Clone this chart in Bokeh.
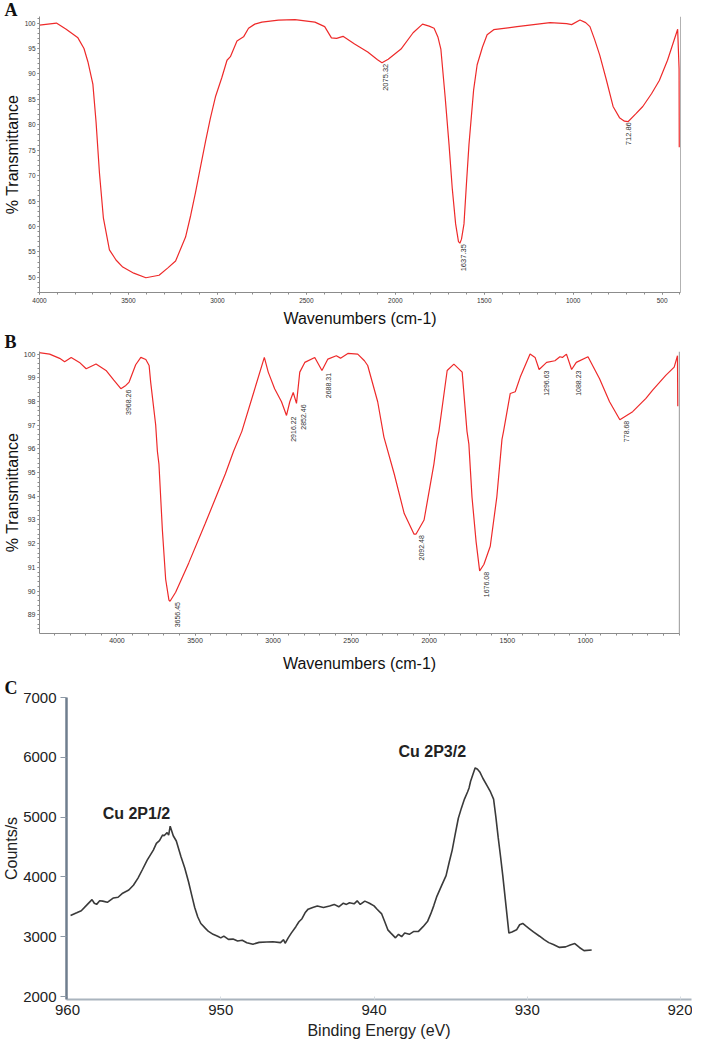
import math
from bokeh.plotting import figure
from bokeh.models import Range1d, FixedTicker, Span, ColumnDataSource
from bokeh.layouts import column
from bokeh.embed import file_html
from bokeh.resources import INLINE
from bokeh.core.properties import value

SANS = "Liberation Sans"
SERIF = "Liberation Serif"

# ---------------- Panel A : FTIR spectrum ----------------
A_wn = [4000, 3905, 3850, 3784, 3750, 3728, 3700, 3682, 3663, 3641, 3607, 3570, 3532, 3470,
        3402, 3328, 3280, 3235, 3179, 3150, 3123, 3095, 3067, 3040, 3011, 2975, 2946, 2927,
        2890, 2853, 2825, 2790, 2750, 2657, 2564, 2452, 2397, 2359, 2330, 2294, 2229, 2155,
        2100, 2075, 2040, 1968, 1900, 1847, 1810, 1782, 1760, 1744, 1720, 1698, 1680, 1661,
        1645, 1637, 1628, 1614, 1600, 1586, 1560, 1540, 1510, 1484, 1447, 1316, 1130, 1037,
        1009, 962, 930, 906, 880, 851, 815, 776, 740, 712, 692, 650, 609, 560, 516, 470,
        413, 405, 404]
A_T = [99.6, 100.0, 98.8, 97.1, 95.0, 92.4, 88.0, 80.5, 70.5, 61.7, 55.4, 53.4, 52.0, 50.8,
       49.9, 50.4, 51.8, 53.2, 57.9, 62.2, 66.7, 71.7, 76.7, 81.2, 85.5, 89.3, 92.7, 93.4,
       96.5, 97.3, 99.0, 99.8, 100.2, 100.6, 100.7, 100.2, 99.3, 97.1, 97.0, 97.4, 95.9, 94.3,
       92.8, 92.2, 92.9, 94.9, 98.1, 99.8, 99.4, 99.0, 97.2, 94.9, 85.5, 76.1, 67.5, 60.5,
       57.0, 56.7, 57.5, 60.5, 68.5, 76.1, 86.8, 91.8, 95.3, 97.7, 98.7, 99.3, 100.1, 99.9,
       99.7, 100.6, 100.1, 99.3, 96.8, 93.7, 89.0, 83.6, 81.4, 80.7, 80.6, 82.1, 83.6, 86.1, 88.7, 92.7,
       98.8, 91.0, 75.6]
A_peaks = [2075.32, 1637.35, 712.86]
A_peak_T = [92.2, 56.7, 80.7]
A_xticks = [4000, 3500, 3000, 2500, 2000, 1500, 1000, 500]
A_yticks = [50, 55, 60, 65, 70, 75, 80, 85, 90, 95, 100]

# ---------------- Panel B : FTIR spectrum ----------------
B_wn = [4505, 4431, 4367, 4335, 4293, 4240, 4197, 4134, 4070, 4020, 3975, 3943, 3922, 3880,
        3847, 3815, 3794, 3784, 3752, 3741, 3731, 3709, 3688, 3667, 3660, 3624, 3540, 3434,
        3306, 3253, 3200, 3056, 3031, 2990, 2946, 2914, 2893, 2871, 2850, 2829, 2797, 2733,
        2687, 2649, 2595, 2568, 2521, 2458, 2415, 2394, 2330, 2290, 2224, 2160, 2097, 2085,
        2033, 1970, 1949, 1938, 1885, 1842, 1789, 1758, 1746, 1726, 1700, 1677, 1650, 1609,
        1567, 1534, 1524, 1481, 1449, 1417, 1354, 1322, 1296, 1248, 1195, 1163, 1147, 1121,
        1088, 1058, 983, 909, 845, 779, 697, 612, 569, 485, 431, 410, 408]
B_T = [100.07, 100.0, 99.82, 99.68, 99.86, 99.65, 99.38, 99.58, 99.31, 98.9, 98.54, 98.68, 98.82, 99.55,
       99.86, 99.77, 99.52, 98.82, 97.02, 95.9, 95.36, 92.58, 90.5, 89.62, 89.57, 89.95, 91.19, 92.86,
       94.94, 95.9, 96.74, 99.86, 99.24, 98.54, 97.99, 97.41, 97.99, 98.38, 97.92, 99.24, 99.65, 99.86,
       99.31, 99.79, 99.93, 99.83, 100.03, 100.0, 99.72, 99.52, 97.99, 96.5, 94.94, 93.27, 92.4, 92.4,
       93.0, 95.36, 96.4, 96.74, 99.31, 99.58, 99.24, 96.74, 96.2, 93.97, 92.1, 90.85, 91.12, 91.89,
       93.97, 96.4, 96.74, 98.34, 98.41, 99.03, 100.0, 99.86, 99.35, 99.65, 99.72, 99.89, 99.86, 100.0,
       99.35, 99.65, 99.89, 98.96, 97.99, 97.23, 97.57, 98.13, 98.48, 99.1, 99.45, 99.93, 97.8]
B_peaks = [3968.26, 3656.45, 2916.22, 2852.46, 2688.31, 2092.48, 1676.08, 1296.63, 1088.23, 778.68]
B_peak_T = [98.54, 89.58, 97.41, 97.92, 99.25, 92.4, 90.85, 99.35, 99.35, 97.23]
B_xticks = [4000, 3500, 3000, 2500, 2000, 1500, 1000, 500]
B_yticks = [89, 90, 91, 92, 93, 94, 95, 96, 97, 98, 99, 100]

# ---------------- Panel C : XPS Cu 2p ----------------
C_be = [959.8, 959.4, 959.1, 958.7, 958.4, 958.25, 958.1, 957.9, 957.7, 957.4, 957.0, 956.7,
        956.4, 956.0, 955.7, 955.4, 955.1, 954.8, 954.4, 954.2, 954.0, 953.8, 953.7, 953.5,
        953.4, 953.3, 953.1, 952.9, 952.6, 952.35, 952.1, 951.9, 951.7, 951.5, 951.3, 951.0,
        950.8, 950.5, 950.2, 950.0, 949.8, 949.5, 949.2, 948.9, 948.6, 948.3, 947.9, 947.5,
        947.0, 946.6, 946.1, 945.9, 945.8, 945.6, 945.4, 945.1, 944.9, 944.7, 944.5, 944.3,
        944.0, 943.7, 943.3, 942.9, 942.6, 942.3, 942.0, 941.8, 941.6, 941.3, 941.1, 940.9,
        940.6, 940.3, 940.0, 939.8, 939.5, 939.3, 939.1, 938.9, 938.6, 938.4, 938.2, 938.0,
        937.7, 937.4, 937.1, 936.8, 936.5, 936.3, 936.1, 935.9, 935.6, 935.3, 935.1, 934.9,
        934.7, 934.5, 934.3, 934.1, 933.9, 933.8, 933.7, 933.6, 933.4, 933.25, 933.1, 932.9,
        932.6, 932.4, 932.2, 932.05, 931.9, 931.75, 931.6, 931.4, 931.2, 931.0, 930.7, 930.5,
        930.3, 930.1, 929.9, 929.6, 929.2, 928.9, 928.6, 928.3, 927.9, 927.5, 927.2, 926.9,
        926.6, 926.3, 925.8]
C_counts = [3355, 3400, 3435, 3541, 3621, 3560, 3541, 3600, 3595, 3575, 3648, 3660,
            3728, 3780, 3861, 3980, 4128, 4280, 4448, 4560, 4608, 4700, 4688, 4741,
            4700, 4848, 4688, 4600, 4341, 4150, 3915, 3700, 3488, 3330, 3221, 3140,
            3088, 3040, 3008, 2980, 3010, 2955, 2960, 2928, 2940, 2900, 2875, 2905,
            2912, 2915, 2901, 2950, 2890, 2981, 3060, 3168, 3250, 3301, 3400, 3461,
            3490, 3515, 3490, 3515, 3540, 3500, 3560, 3540, 3568, 3550, 3600, 3540,
            3595, 3560, 3515, 3460, 3381, 3250, 3115, 3060, 2981, 3040, 3000, 3061,
            3040, 3088, 3090, 3168, 3260, 3381, 3520, 3675, 3850, 4021, 4240, 4448,
            4720, 4981, 5150, 5301, 5420, 5488, 5600, 5675, 5824, 5800, 5755, 5650,
            5515, 5420, 5301, 5000, 4661, 4350, 4021, 3540, 3061, 3080, 3115, 3200,
            3221, 3180, 3141, 3080, 3008, 2950, 2901, 2870, 2821, 2830, 2860, 2885,
            2820, 2768, 2779]
C_xticks = [960, 950, 940, 930, 920]
C_yticks = [2000, 3000, 4000, 5000, 6000, 7000]
C_peak_names = ["Cu 2P1/2", "Cu 2P3/2"]
C_peak_be = [955.5, 936.2]
C_peak_counts = [5060, 6100]

RED = "#ee2a2a"
AX = "#8c8c8c"
TXT = "#333333"


def base(width, height, xr, yr, letter, letter_offset, title_standoff, **borders):
    p = figure(width=width, height=height, x_range=xr, y_range=yr,
               output_backend="svg", toolbar_location=None, frame_align=False, **borders)
    p.grid.visible = False
    p.outline_line_color = None
    p.background_fill_color = "white"
    p.border_fill_color = "white"
    p.title.text = letter
    p.title.text_font = SERIF
    p.title.text_font_style = "bold"
    p.title.text_font_size = "18px"
    p.title.text_color = "#111111"
    p.title.align = "left"
    p.title.offset = letter_offset
    p.title.standoff = title_standoff
    p.title.text_line_height = 0.8
    return p


def ir_axis_style(ax, fs, tick_out, standoff):
    ax.axis_line_color = AX
    ax.axis_line_width = 1
    ax.major_tick_line_color = AX
    ax.minor_tick_line_color = AX
    ax.major_tick_in = 0
    ax.major_tick_out = tick_out
    ax.minor_tick_in = 0
    ax.minor_tick_out = 2
    ax.major_label_text_font = SANS
    ax.major_label_text_font_size = fs
    ax.major_label_text_color = TXT
    ax.major_label_standoff = standoff
    ax.axis_label_text_font = SANS
    ax.axis_label_text_font_size = "16px"
    ax.axis_label_text_font_style = "normal"
    ax.axis_label_text_color = "#111111"
    ax.axis_label_text_line_height = 0.7


# ---------- A ----------
pA = base(692, 329, Range1d(4000, 397), Range1d(47, 101.3), "A", -35, -6,
          min_border_left=35, min_border_right=12, min_border_top=8, min_border_bottom=32)
pA.line(A_wn, A_T, line_color=RED, line_width=1.2)
pA.xaxis.ticker = FixedTicker(ticks=A_xticks, minor_ticks=list(range(400, 4001, 100)))
pA.yaxis.ticker = FixedTicker(ticks=A_yticks, minor_ticks=list(range(47, 102)))
for ax in pA.xaxis:
    ir_axis_style(ax, "6.5px", 2, 3)
    ax.axis_label = "Wavenumbers (cm-1)"
    ax.axis_label_standoff = 4
for ax in pA.yaxis:
    ir_axis_style(ax, "6.5px", 2, 2)
    ax.axis_label = "% Transmittance"
    ax.axis_label_standoff = 1
pA.add_layout(Span(location=397, dimension="height", line_color="#666666", line_width=1))
srcA = ColumnDataSource(dict(x=A_peaks, y=A_peak_T, t=["%.2f" % v for v in A_peaks]))
pA.text(x="x", y="y", text="t", source=srcA, angle=math.pi / 2, text_align="right",
        text_baseline="middle", x_offset=4, y_offset=1, text_font=value(SANS),
        text_font_size="7.5px", text_color=TXT)

# ---------- B ----------
pB = base(692, 345, Range1d(4496, 397), Range1d(88.21, 100.11), "B", -35, 0,
          min_border_left=35, min_border_right=13, min_border_top=22, min_border_bottom=37)
pB.line(B_wn, B_T, line_color=RED, line_width=1.2)
pB.xaxis.ticker = FixedTicker(ticks=B_xticks, minor_ticks=list(range(400, 4501, 100)))
pB.yaxis.ticker = FixedTicker(ticks=B_yticks,
                              minor_ticks=[round(88.4 + 0.2 * i, 1) for i in range(60)])
for ax in pB.xaxis:
    ir_axis_style(ax, "7px", 2, 2)
    ax.axis_label = "Wavenumbers (cm-1)"
    ax.axis_label_standoff = 9
    ax.major_label_overrides = {500: ""}
for ax in pB.yaxis:
    ir_axis_style(ax, "7px", 2, 2)
    ax.axis_label = "% Transmittance"
    ax.axis_label_standoff = 0
pB.add_layout(Span(location=397, dimension="height", line_color="#555555", line_width=1.2))
srcB = ColumnDataSource(dict(x=B_peaks, y=B_peak_T, t=["%.2f" % v for v in B_peaks]))
pB.text(x="x", y="y", text="t", source=srcB, angle=math.pi / 2, text_align="right",
        text_baseline="middle", x_offset=7, y_offset=1, text_font=value(SANS),
        text_font_size="7px", text_color=TXT)

# ---------- C ----------
pC = base(692, 370, Range1d(960.065, 919.287), Range1d(1950, 7000), "C", -62, 0,
          min_border_left=62, min_border_right=1, min_border_top=23, min_border_bottom=45)
pC.line(C_be, C_counts, line_color="#3a3a3a", line_width=1.6)
pC.xaxis.ticker = FixedTicker(ticks=C_xticks)
pC.yaxis.ticker = FixedTicker(ticks=C_yticks)
for ax in pC.xaxis:
    ax.axis_line_color = "#aab4be"
    ax.axis_line_width = 2
    ax.major_tick_line_color = "#d5dbe1"
    ax.major_tick_in = 3
    ax.major_tick_out = 0
    ax.minor_tick_line_color = None
    ax.major_label_text_font = SANS
    ax.major_label_text_font_size = "15px"
    ax.major_label_text_color = "#222222"
    ax.major_label_standoff = 5
    ax.axis_label = "Binding Energy (eV)"
    ax.axis_label_text_font = SANS
    ax.axis_label_text_font_size = "16px"
    ax.axis_label_text_font_style = "normal"
    ax.axis_label_text_color = "#222222"
    ax.axis_label_text_line_height = 0.7
    ax.axis_label_standoff = 4
for ax in pC.yaxis:
    ax.axis_line_color = "#6f7e8e"
    ax.axis_line_width = 2.5
    ax.major_tick_line_color = "#8d99a6"
    ax.major_tick_in = 0
    ax.major_tick_out = 6
    ax.minor_tick_line_color = None
    ax.major_label_text_font = SANS
    ax.major_label_text_font_size = "15px"
    ax.major_label_text_color = "#222222"
    ax.major_label_standoff = 4
    ax.axis_label = "Counts/s"
    ax.axis_label_text_font = SANS
    ax.axis_label_text_font_size = "16px"
    ax.axis_label_text_font_style = "normal"
    ax.axis_label_text_color = "#222222"
    ax.axis_label_standoff = 0
srcC = ColumnDataSource(dict(x=C_peak_be, y=C_peak_counts, t=C_peak_names))
pC.text(x="x", y="y", text="t", source=srcC, text_align="center", text_baseline="middle",
        text_font=value(SANS), text_font_style="bold", text_font_size="16px",
        text_color="#222222")

layout = column(pA, pB, pC, spacing=0)
open("out.html", "w").write(file_html(layout, INLINE))
